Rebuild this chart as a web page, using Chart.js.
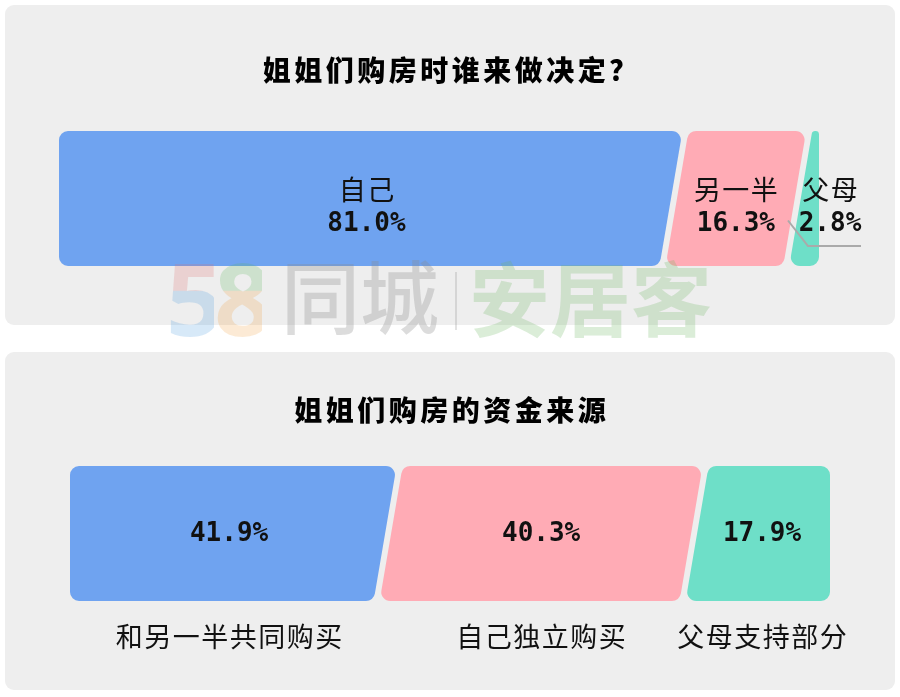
<!DOCTYPE html>
<html>
<head>
<meta charset="utf-8">
<script src="https://cdn.jsdelivr.net/npm/chart.js@4.4.1/dist/chart.umd.min.js"></script>
<style>
body{margin:0;background:#fff;width:900px;height:697px;position:relative;overflow:hidden;font-family:"Noto Sans CJK SC",sans-serif}
.panel{position:absolute;left:5px;width:890px;background:#eeeeee;border-radius:9px}
#p1{top:5px;height:320px}
#p2{top:352px;height:338px}
canvas{display:block}
.wm{position:absolute;pointer-events:none;line-height:1;white-space:nowrap}
</style>
</head>
<body>
<div class="panel" id="p1"><canvas id="chart1" width="890" height="320"></canvas></div>
<div class="panel" id="p2"><canvas id="chart2" width="890" height="338"></canvas></div>

<!-- watermark -->
<div class="wm" style="left:166px;top:247px;font-family:'Noto Sans',sans-serif;font-weight:700;font-size:100px;letter-spacing:-9px;opacity:0.22">
  <span style="background:linear-gradient(#e07070 45%,#4a9ae0 46%);-webkit-background-clip:text;color:transparent">5</span><span style="background:linear-gradient(#5ab85a 45%,#f0a040 46%);-webkit-background-clip:text;color:transparent">8</span>
</div>
<div class="wm" style="left:281px;top:254px;font-size:79px;font-weight:500;color:rgba(140,140,140,0.3)">同城</div>
<div class="wm" style="left:455px;top:272px;width:2px;height:58px;background:rgba(140,140,140,0.25)"></div>
<div class="wm" style="left:469px;top:254px;font-size:81px;font-weight:700;color:rgba(110,185,100,0.25)">安居客</div>

<script>
// who decides
var decideLabels = ['自己', '另一半', '父母'];
var decideValues = [81.0, 16.3, 2.8];

// where the money comes from
var fundLabels = ['和另一半共同购买', '自己独立购买', '父母支持部分'];
var fundValues = [41.9, 40.3, 17.9];

var colors = ['#6fa3f0', '#ffabb5', '#6edfc8'];

var SLANT = 11.5;
var GAP = 6;
var RADIUS = 9;

function sum(a) { return a.reduce(function (s, v) { return s + v; }, 0); }

function roundPoly(ctx, pts, r) {
  var n = pts.length;
  ctx.beginPath();
  ctx.moveTo((pts[n - 1].x + pts[0].x) / 2, (pts[n - 1].y + pts[0].y) / 2);
  for (var i = 0; i < n; i++) {
    var p = pts[i], nx = pts[(i + 1) % n], pv = pts[(i + n - 1) % n];
    var l1 = Math.hypot(p.x - pv.x, p.y - pv.y);
    var l2 = Math.hypot(nx.x - p.x, nx.y - p.y);
    var rr = Math.min(r, l1 / 2, l2 / 2);
    ctx.arcTo(p.x, p.y, nx.x, nx.y, rr);
  }
  ctx.closePath();
}

function spacedText(ctx, txt, x, y, sp) {
  ctx.letterSpacing = sp + 'px';
  ctx.fillText(txt, x + sp / 2, y);
  ctx.letterSpacing = '0px';
}

var slantBars = {
  id: 'slantBars',
  afterDatasetsDraw: function (chart) {
    var ctx = chart.ctx;
    var n = chart.data.datasets.length;
    var opt = chart.options.plugins.slantBars;
    ctx.save();
    for (var i = 0; i < n; i++) {
      var el = chart.getDatasetMeta(i).data[0];
      var h = el.height, top = el.y - h / 2, bot = el.y + h / 2;
      var l = el.base, r = el.x;
      var tl = i === 0 ? l : l + SLANT + GAP / 2;
      var bl = i === 0 ? l : l - SLANT + GAP / 2;
      var tr = i === n - 1 ? r : r + SLANT - GAP / 2;
      var br = i === n - 1 ? r : r - SLANT - GAP / 2;
      ctx.fillStyle = colors[i];
      roundPoly(ctx, [{x: tl, y: top}, {x: tr, y: top}, {x: br, y: bot}, {x: bl, y: bot}], RADIUS);
      ctx.fill();

      var cx = (l + r) / 2, cy = el.y;
      var name = chart.data.datasets[i].label;
      var val = chart.data.datasets[i].data[0].toFixed(1) + '%';
      ctx.fillStyle = '#111';
      ctx.textAlign = 'center';
      ctx.textBaseline = 'middle';
      if (opt.mode === 'inside') {
        if (r - l < 40) {
          // small slice: label pushed out with a leader line
          cx = r + 11;
          ctx.strokeStyle = '#aaaaaa';
          ctx.lineWidth = 2;
          ctx.beginPath();
          ctx.moveTo(r - 31, cy + 22);
          ctx.lineTo(r - 11, cy + 47.5);
          ctx.lineTo(r + 42, cy + 47.5);
          ctx.stroke();
        }
        ctx.font = '27px "Noto Sans CJK SC"';
        spacedText(ctx, name, cx, cy - 9, 1.5);
        ctx.font = 'bold 26px "DejaVu Sans Mono"';
        ctx.fillText(val, cx, cy + 26);
      } else {
        ctx.font = 'bold 26px "DejaVu Sans Mono"';
        ctx.fillText(val, cx, cy + 1);
        ctx.font = '27px "Noto Sans CJK SC"';
        spacedText(ctx, name, cx, bot + 36, 1.5);
      }
    }
    // title
    ctx.font = '900 28px "Noto Sans CJK SC"';
    ctx.fillStyle = '#000';
    ctx.textAlign = 'center';
    ctx.textBaseline = 'middle';
    spacedText(ctx, opt.title, chart.width / 2, opt.titleY, 3.5);
    ctx.restore();
  }
};

function makeChart(id, labels, values, pad, mode, title, titleY) {
  return new Chart(document.getElementById(id).getContext('2d'), {
    type: 'bar',
    data: {
      labels: [''],
      datasets: labels.map(function (lb, i) {
        return { label: lb, data: [values[i]], backgroundColor: 'rgba(0,0,0,0)', borderWidth: 0 };
      })
    },
    options: {
      indexAxis: 'y',
      responsive: false,
      animation: false,
      devicePixelRatio: 1,
      barPercentage: 1,
      categoryPercentage: 1,
      layout: { padding: pad },
      scales: {
        x: { stacked: true, display: false, min: 0, max: sum(values) },
        y: { stacked: true, display: false }
      },
      plugins: {
        legend: { display: false },
        tooltip: { enabled: false },
        slantBars: { mode: mode, title: title, titleY: titleY }
      }
    },
    plugins: [slantBars]
  });
}

makeChart('chart1', decideLabels, decideValues, {left: 54, right: 76, top: 126, bottom: 59}, 'inside', '姐姐们购房时谁来做决定？', 65);
makeChart('chart2', fundLabels, fundValues, {left: 65, right: 65, top: 114, bottom: 89}, 'below', '姐姐们购房的资金来源', 58);
</script>
</body>
</html>
